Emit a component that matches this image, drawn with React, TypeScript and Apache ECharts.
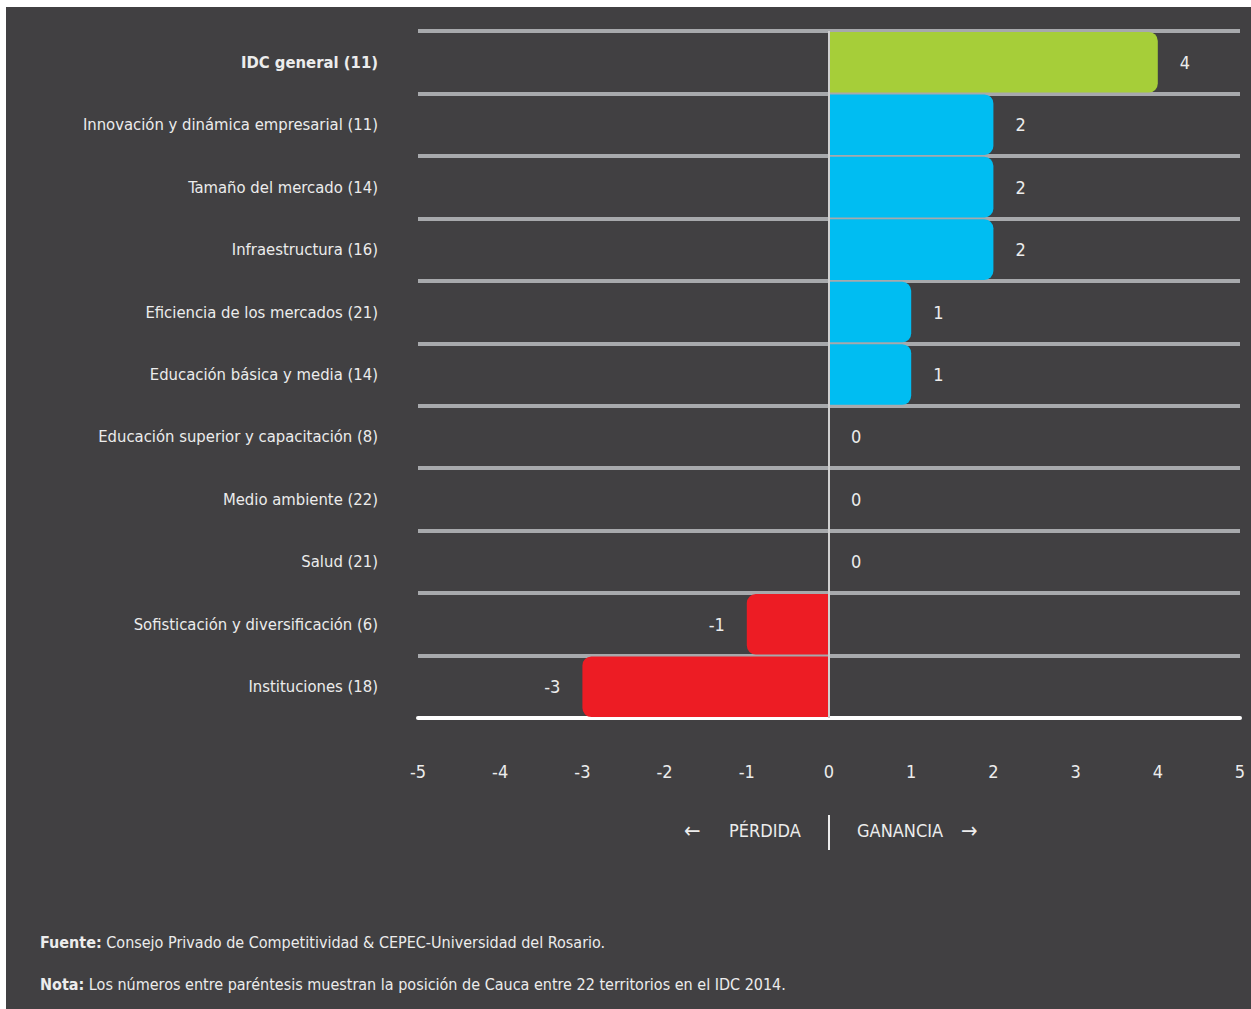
import React, { useEffect, useRef } from "react";
import * as echarts from "echarts";

const categories = [
  "IDC general (11)",
  "Innovación y dinámica empresarial (11)",
  "Tamaño del mercado (14)",
  "Infraestructura (16)",
  "Eficiencia de los mercados (21)",
  "Educación básica y media (14)",
  "Educación superior y capacitación (8)",
  "Medio ambiente (22)",
  "Salud (21)",
  "Sofisticación y diversificación (6)",
  "Instituciones (18)",
];
const values = [4, 2, 2, 2, 1, 1, 0, 0, 0, -1, -3];
const xMin = -5;
const xMax = 5;
const xStep = 1;
const lossLabel = "PÉRDIDA";
const gainLabel = "GANANCIA";
const sourceTitle = "Fuente:";
const sourceText = " Consejo Privado de Competitividad & CEPEC-Universidad del Rosario.";
const noteTitle = "Nota:";
const noteText = " Los números entre paréntesis muestran la posición de Cauca entre 22 territorios en el IDC 2014.";

const FONT = "'Liberation Sans Narrow', 'DejaVu Sans Condensed', 'Roboto', sans-serif";
const BG = "#414042";
const TXT = "#ececec";
const GREEN = "#a6ce39";
const BLUE = "#00bdf2";
const RED = "#ed1c24";

export default function App() {
  const ref = useRef<HTMLDivElement>(null);
  useEffect(() => {
    if (!ref.current) return;
    const chart = echarts.init(ref.current, undefined, { renderer: "svg" });
    const ox = 6;
    const oy = 7;
    const data = values.map((v, i) => ({
      value: v,
      itemStyle: {
        color: i === 0 ? GREEN : v >= 0 ? BLUE : RED,
        borderRadius: v >= 0 ? [0, 9, 9, 0] : [9, 0, 0, 9],
      },
      label: {
        position: v >= 0 ? "right" : "left",
      },
    }));
    chart.setOption({
      animation: false,
      backgroundColor: BG,
      grid: { left: 418 - ox, right: 11, top: 31 - oy, height: 687 },
      xAxis: {
        type: "value",
        min: xMin,
        max: xMax,
        interval: xStep,
        axisLine: { show: true, onZero: false, lineStyle: { color: "#ffffff", width: 4 } },
        axisTick: { show: false },
        splitLine: { show: false },
        axisLabel: {
          color: TXT,
          fontFamily: FONT,
          fontSize: 18,
          margin: 44,
        },
      },
      yAxis: {
        type: "category",
        inverse: true,
        data: categories,
        axisLine: { show: false, onZero: false },
        axisTick: { show: false },
        splitLine: { show: true, lineStyle: { color: "#a7a9ac", width: 4 } },
        axisLabel: {
          margin: 40,
          color: TXT,
          fontFamily: FONT,
          fontSize: 16.5,
          formatter: (v: string, i: number) => (i === 0 ? `{b|${v}}` : v),
          rich: {
            b: { fontWeight: "bold", color: TXT, fontFamily: FONT, fontSize: 16.5 },
          },
        },
      },
      series: [
        {
          type: "bar",
          data,
          barCategoryGap: "3%",
          z: 1,
          label: {
            show: true,
            distance: 22,
            color: TXT,
            fontFamily: FONT,
            fontSize: 18,
          },
          markLine: {
            silent: true,
            symbol: "none",
            label: { show: false },
            lineStyle: { color: "#cfcfcf", width: 2, type: "solid" },
            data: [{ xAxis: 0 }],
          },
        },
      ],
      graphic: [
        {
          type: "text",
          left: 694 - ox - 10,
          top: 831 - oy - 12,
          style: { text: "←", fill: TXT, font: `22px ${FONT}` },
        },
        {
          type: "text",
          left: 729 - ox,
          top: 831 - oy - 10,
          style: { text: lossLabel, fill: TXT, font: `18px ${FONT}` },
        },
        {
          type: "line",
          shape: { x1: 829 - ox, y1: 815 - oy, x2: 829 - ox, y2: 850 - oy },
          style: { stroke: TXT, lineWidth: 2 },
        },
        {
          type: "text",
          left: 857 - ox,
          top: 831 - oy - 10,
          style: { text: gainLabel, fill: TXT, font: `18px ${FONT}` },
        },
        {
          type: "text",
          left: 961 - ox,
          top: 831 - oy - 12,
          style: { text: "→", fill: TXT, font: `22px ${FONT}` },
        },
        {
          type: "text",
          left: 40 - ox,
          top: 944 - oy - 10,
          style: {
            text: `{b|${sourceTitle}}${sourceText}`,
            fill: TXT,
            font: `16px ${FONT}`,
            rich: { b: { fontWeight: "bold", fill: TXT, fontFamily: FONT, fontSize: 16 } },
          },
        },
        {
          type: "text",
          left: 40 - ox,
          top: 986 - oy - 10,
          style: {
            text: `{b|${noteTitle}}${noteText}`,
            fill: TXT,
            font: `16px ${FONT}`,
            rich: { b: { fontWeight: "bold", fill: TXT, fontFamily: FONT, fontSize: 16 } },
          },
        },
      ],
    });
    return () => chart.dispose();
  }, []);
  return (
    <div style={{ position: "absolute", left: 0, top: 0, width: 1251, height: 1009, background: "#ffffff" }}>
      <div ref={ref} style={{ position: "absolute", left: 6, top: 7, width: 1245, height: 1002 }} />
    </div>
  );
}
